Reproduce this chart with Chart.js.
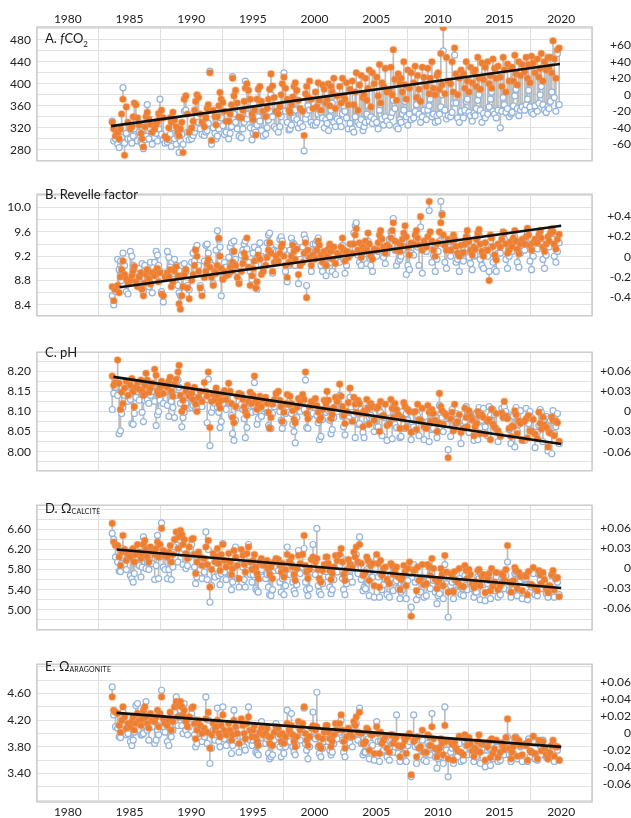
<!DOCTYPE html>
<html>
<head>
<meta charset="utf-8">
<script src="https://cdn.jsdelivr.net/npm/chart.js@4.4.1/dist/chart.umd.min.js"></script>
<style>
  body { margin: 0; background: #fff; font-family: Lato, "Noto Sans", sans-serif; }
  #wrap { position: relative; width: 631px; height: 818px; overflow: hidden; }
  canvas { position: absolute; left: 0; }
  .ttl { position: absolute; left: 45px; font-size: 13px; color: #1a1a1a; white-space: nowrap; }
  .ttl sub { font-size: 8px; }
  .ttl .sc { font-size: 7px; letter-spacing: 0.2px; position: relative; top: 1px; }
</style>
</head>
<body>
<div id="wrap">
  <canvas id="pA" width="631" height="174" style="top:0px"></canvas>
  <canvas id="pB" width="631" height="148" style="top:181px"></canvas>
  <canvas id="pC" width="631" height="145" style="top:339px"></canvas>
  <canvas id="pD" width="631" height="151" style="top:492px"></canvas>
  <canvas id="pE" width="631" height="167" style="top:651px"></canvas>
  <div class="ttl" style="top:30px">A. <i>f</i>CO<sub>2</sub></div>
  <div class="ttl" style="top:186px">B. Revelle factor</div>
  <div class="ttl" style="top:344px">C. pH</div>
  <div class="ttl" style="top:500px">D. &Omega;<span class="sc">CALCITE</span></div>
  <div class="ttl" style="top:658px">E. &Omega;<span class="sc">ARAGONITE</span></div>
</div>
<script>
// sample dates (decimal years), one row per year
const sampleYears = [
  1983.60,1983.72,1983.86,
  1984.04,1984.16,1984.27,1984.36,1984.47,1984.60,1984.74,1984.88,
  1985.07,1985.19,1985.30,1985.39,1985.52,1985.65,1985.79,1985.93,
  1986.02,1986.13,1986.24,1986.34,1986.44,1986.57,1986.70,1986.84,
  1987.04,1987.16,1987.27,1987.36,1987.47,1987.60,1987.74,1987.88,
  1988.07,1988.19,1988.30,1988.39,1988.52,1988.65,1988.79,1988.93,
  1989.02,1989.13,1989.24,1989.34,1989.44,1989.57,1989.70,1989.84,
  1990.04,1990.16,1990.27,1990.36,1990.47,1990.60,1990.74,1990.88,
  1991.07,1991.19,1991.30,1991.39,1991.52,1991.65,1991.79,1991.93,
  1992.02,1992.13,1992.24,1992.34,1992.44,1992.57,1992.70,1992.84,
  1993.04,1993.16,1993.27,1993.36,1993.47,1993.60,1993.74,1993.88,
  1994.07,1994.19,1994.30,1994.39,1994.52,1994.65,1994.79,1994.93,
  1995.02,1995.13,1995.24,1995.34,1995.44,1995.57,1995.70,1995.84,
  1996.04,1996.16,1996.27,1996.36,1996.47,1996.60,1996.74,1996.88,
  1997.07,1997.19,1997.30,1997.39,1997.52,1997.65,1997.79,1997.93,
  1998.02,1998.13,1998.24,1998.34,1998.44,1998.57,1998.70,1998.84,
  1999.04,1999.16,1999.27,1999.36,1999.47,1999.60,1999.74,1999.88,
  2000.07,2000.19,2000.30,2000.39,2000.52,2000.65,2000.79,2000.93,
  2001.02,2001.13,2001.24,2001.34,2001.44,2001.57,2001.70,2001.84,
  2002.04,2002.16,2002.27,2002.36,2002.47,2002.60,2002.74,2002.88,
  2003.07,2003.19,2003.30,2003.39,2003.52,2003.65,2003.79,2003.93,
  2004.02,2004.13,2004.24,2004.34,2004.44,2004.57,2004.70,2004.84,
  2005.04,2005.16,2005.27,2005.36,2005.47,2005.60,2005.74,2005.88,
  2006.07,2006.19,2006.30,2006.39,2006.52,2006.65,2006.79,2006.93,
  2007.02,2007.13,2007.24,2007.34,2007.44,2007.57,2007.70,2007.84,
  2008.04,2008.16,2008.27,2008.36,2008.47,2008.60,2008.74,2008.88,
  2009.07,2009.19,2009.30,2009.39,2009.52,2009.65,2009.79,2009.93,
  2010.02,2010.13,2010.24,2010.34,2010.44,2010.57,2010.70,2010.84,
  2011.04,2011.16,2011.27,2011.36,2011.47,2011.60,2011.74,2011.88,
  2012.07,2012.19,2012.30,2012.39,2012.52,2012.65,2012.79,2012.93,
  2013.02,2013.13,2013.24,2013.34,2013.44,2013.57,2013.70,2013.84,
  2014.04,2014.16,2014.27,2014.36,2014.47,2014.60,2014.74,2014.88,
  2015.07,2015.19,2015.30,2015.39,2015.52,2015.65,2015.79,2015.93,
  2016.02,2016.13,2016.24,2016.34,2016.44,2016.57,2016.70,2016.84,
  2017.04,2017.16,2017.27,2017.36,2017.47,2017.60,2017.74,2017.88,
  2018.07,2018.19,2018.30,2018.39,2018.52,2018.65,2018.79,2018.93,
  2019.02,2019.13,2019.24,2019.34,2019.44,2019.57,2019.70,2019.84
];

// A. fCO2 (uatm): orange filled / blue open
const fco2Orange = [
  330,318,305,
  312,300,318,345,372,270,358,330,
  318,322,340,365,362,338,325,310,
  300,285,322,340,348,336,326,312,
  318,326,332,346,340,352,338,304,
  300,320,338,330,348,334,322,312,
  305,318,330,275,372,378,345,312,
  320,332,352,368,380,375,345,330,
  322,338,355,362,420,297,352,340,
  325,340,360,384,372,366,350,332,
  332,345,362,410,378,388,365,340,
  338,352,368,392,400,388,372,345,
  335,352,307,372,390,395,368,350,
  340,355,372,390,418,396,375,350,
  345,358,380,400,412,392,372,352,
  348,362,376,395,402,388,370,355,
  350,306,382,395,375,405,372,355,
  385,358,402,370,352,398,390,365,
  372,400,360,395,385,410,355,378,
  395,365,410,378,372,402,362,390,
  405,362,385,420,352,398,415,375,
  380,410,370,392,425,358,420,400,
  412,378,435,365,402,395,428,385,
  390,430,380,462,408,370,418,400,
  410,385,440,398,372,425,392,420,
  402,432,375,415,390,368,430,412,
  395,428,382,410,440,392,380,415,
  420,390,455,398,502,382,448,405,
  400,440,385,465,418,380,410,425,
  418,392,440,405,385,430,402,422,
  425,395,448,410,390,438,408,430,
  440,400,415,392,445,428,410,432,
  412,395,448,425,385,436,405,430,
  430,405,452,418,398,440,415,435,
  422,448,410,435,402,450,438,420,
  445,412,428,455,405,440,425,448,
  430,448,420,478,445,410,462,465
];
const fco2Blue = [
  332,296,300,
  290,284,298,302,393,292,310,300,
  300,292,305,318,330,296,312,295,
  290,282,298,305,362,300,318,290,
  302,310,296,318,372,308,298,292,
  294,298,308,286,320,300,290,304,
  275,296,308,290,350,352,312,298,
  300,306,312,320,338,330,318,308,
  306,312,315,328,423,290,320,310,
  300,305,318,330,338,324,308,312,
  300,310,322,413,345,330,318,305,
  302,318,330,405,336,345,320,298,
  310,318,312,325,340,332,315,305,
  308,320,334,350,380,340,322,318,
  312,322,340,352,420,350,330,316,
  318,325,345,338,352,335,320,328,
  322,278,336,345,360,352,330,325,
  325,330,345,368,348,338,320,335,
  328,315,340,352,365,330,322,336,
  332,322,345,360,350,338,318,328,
  318,312,340,352,330,326,335,315,
  322,330,345,360,332,340,328,336,
  330,318,352,362,336,325,340,332,
  325,340,348,370,355,322,318,335,
  330,345,352,368,340,325,345,335,
  338,350,362,375,345,330,340,352,
  335,352,360,372,340,345,330,342,
  332,345,358,380,460,352,336,342,
  340,348,365,452,365,338,330,350,
  338,352,368,372,348,342,332,346,
  342,355,370,380,352,330,346,338,
  345,358,372,385,350,345,338,352,
  320,350,375,362,348,355,340,345,
  348,360,378,390,355,342,352,358,
  352,362,372,388,358,348,345,360,
  350,365,380,395,362,352,348,358,
  355,368,385,442,375,350,455,362
];

// B. Revelle factor
const revelleOrange = [
  8.70,8.47,8.65,
  8.72,8.60,8.86,8.98,9.12,8.90,8.83,8.76,
  8.80,8.88,8.96,9.03,8.78,8.70,8.86,8.93,
  8.66,8.55,8.76,8.90,8.98,8.83,8.74,8.93,
  8.88,8.96,9.00,8.78,8.93,8.58,8.55,8.86,
  8.93,8.86,8.98,8.70,8.78,8.96,9.03,8.88,
  8.42,8.33,8.55,8.70,8.90,8.98,8.68,8.50,
  8.80,8.90,9.05,9.30,9.20,8.95,8.68,8.55,
  8.85,8.95,9.08,9.15,9.02,8.85,8.72,8.95,
  8.92,9.05,9.50,9.20,9.00,8.82,8.95,8.88,
  8.90,9.02,8.95,9.10,9.28,9.05,8.85,8.75,
  8.95,9.08,9.25,9.18,9.50,9.02,8.72,8.88,
  9.00,9.12,8.68,8.78,9.22,9.15,8.90,8.95,
  9.05,9.18,9.30,9.42,9.25,8.95,9.10,9.20,
  9.12,9.25,9.35,9.40,9.20,9.05,8.85,9.10,
  9.08,9.20,9.38,9.28,9.15,9.32,8.90,9.05,
  9.10,9.25,9.42,8.52,9.30,9.18,9.05,9.22,
  9.15,9.30,9.45,9.38,9.22,9.10,9.28,9.05,
  9.20,9.32,9.40,9.28,9.15,9.35,9.08,9.25,
  9.22,9.35,9.50,9.30,9.12,9.28,9.18,9.40,
  9.25,9.40,9.55,9.65,9.30,9.42,9.18,9.35,
  9.28,9.45,9.30,9.58,9.40,9.20,9.15,9.32,
  9.30,9.42,9.55,9.62,9.48,9.35,9.25,9.38,
  9.35,9.50,9.62,9.75,9.45,9.30,9.42,9.28,
  9.38,9.48,9.58,9.70,9.52,9.35,9.22,9.42,
  9.40,9.55,9.62,9.50,9.38,9.85,9.30,9.45,
  9.35,9.52,10.10,9.60,9.45,9.30,9.20,9.40,
  9.42,9.60,9.75,9.88,9.55,9.38,9.30,9.48,
  9.30,9.45,9.55,9.48,9.36,9.25,9.20,9.38,
  9.26,9.40,9.52,9.62,9.44,9.30,9.22,9.35,
  9.32,9.48,9.58,9.64,9.40,9.28,9.20,9.42,
  9.30,8.80,9.55,9.50,9.36,9.22,9.14,9.40,
  9.35,9.48,9.60,9.58,9.40,9.25,9.30,9.44,
  9.36,9.50,9.62,9.45,9.32,9.24,9.40,9.48,
  9.40,9.52,9.66,9.55,9.38,9.30,9.42,9.48,
  9.42,9.55,9.62,9.50,9.35,9.28,9.40,9.52,
  9.45,9.58,9.65,9.60,9.40,9.32,9.48,9.56
];
const revelleBlue = [
  8.55,8.40,8.62,
  9.15,8.98,9.12,8.80,9.25,9.05,8.62,8.58,
  9.28,9.20,9.05,8.85,8.95,8.75,9.00,8.68,
  9.08,8.62,9.05,8.92,8.78,8.70,9.10,8.60,
  9.10,9.28,9.22,9.05,8.95,8.62,8.45,8.92,
  9.28,9.18,9.02,8.95,8.82,9.15,9.05,8.72,
  8.60,8.55,9.05,8.90,9.08,8.95,8.72,8.65,
  9.10,9.25,9.12,9.32,9.38,9.05,8.72,8.62,
  9.12,9.38,9.40,9.25,9.10,9.05,8.75,8.92,
  9.30,9.62,9.48,9.35,8.55,8.85,9.10,9.02,
  9.18,9.35,9.42,9.28,9.45,9.15,8.95,8.80,
  9.22,9.30,9.40,9.45,9.32,9.10,8.95,8.82,
  9.25,9.35,9.05,8.66,9.30,9.42,9.20,9.00,
  9.18,9.42,9.55,9.58,9.35,8.92,9.30,9.28,
  9.28,9.48,9.52,9.45,9.30,8.95,8.78,9.05,
  9.30,9.50,9.42,9.40,9.05,9.35,8.75,9.15,
  9.35,9.55,9.48,8.72,9.20,9.28,8.95,9.40,
  9.40,9.45,9.50,9.25,9.05,8.95,9.15,8.88,
  9.05,9.18,9.35,9.10,8.95,9.22,8.90,9.12,
  9.10,9.20,9.38,9.15,8.92,9.05,9.25,9.22,
  9.40,9.58,9.70,9.75,9.22,9.10,9.05,9.15,
  9.15,9.30,9.08,9.45,9.25,9.05,8.95,9.20,
  9.20,9.28,9.42,9.50,9.30,9.18,9.08,9.25,
  9.48,9.60,9.55,9.82,9.30,9.05,9.12,9.15,
  9.20,9.30,9.45,9.52,8.90,9.05,8.98,9.25,
  9.22,9.40,9.48,9.35,9.05,9.68,8.92,9.30,
  9.28,9.45,9.95,9.40,9.10,9.22,8.95,9.15,
  9.28,9.45,10.10,9.90,9.40,9.10,9.00,9.35,
  9.20,9.30,9.45,9.32,9.10,9.15,8.95,9.25,
  9.12,9.25,9.40,9.52,9.18,9.08,8.98,9.20,
  9.22,9.38,9.52,9.55,9.15,9.05,9.00,9.30,
  9.20,8.95,9.45,9.35,9.10,8.98,8.95,9.25,
  9.25,9.40,9.48,9.48,9.15,9.00,9.20,9.30,
  9.28,9.45,9.52,9.35,9.10,9.02,9.25,9.38,
  9.30,9.42,9.58,9.40,9.12,8.98,9.20,9.35,
  9.32,9.48,9.60,9.40,9.15,9.00,9.22,9.40,
  9.35,9.50,9.62,9.48,9.20,9.10,9.28,9.42
];

// C. pH
const phOrange = [
  8.188,8.165,8.172,
  8.228,8.170,8.105,8.148,8.120,8.158,8.175,8.140,
  8.165,8.182,8.150,8.112,8.160,8.172,8.155,8.178,
  8.150,8.140,8.165,8.195,8.178,8.148,8.158,8.170,
  8.205,8.190,8.150,8.142,8.160,8.175,8.145,8.165,
  8.160,8.175,8.185,8.150,8.138,8.168,8.180,8.198,
  8.215,8.140,8.100,8.128,8.110,8.150,8.165,8.138,
  8.145,8.130,8.160,8.118,8.100,8.135,8.150,8.125,
  8.172,8.150,8.138,8.198,8.060,8.125,8.142,8.128,
  8.158,8.140,8.118,8.108,8.128,8.145,8.152,8.130,
  8.170,8.150,8.120,8.085,8.072,8.112,8.138,8.145,
  8.142,8.130,8.112,8.100,8.090,8.125,8.148,8.120,
  8.140,8.188,8.125,8.105,8.118,8.138,8.112,8.130,
  8.135,8.120,8.098,8.058,8.085,8.118,8.130,8.145,
  8.150,8.128,8.112,8.075,8.098,8.120,8.142,8.118,
  8.138,8.120,8.102,8.080,8.072,8.110,8.132,8.125,
  8.142,8.130,8.198,8.095,8.082,8.112,8.125,8.118,
  8.132,8.115,8.098,8.078,8.085,8.105,8.128,8.120,
  8.150,8.128,8.105,8.082,8.092,8.110,8.135,8.125,
  8.168,8.138,8.112,8.090,8.070,8.100,8.122,8.158,
  8.075,8.135,8.118,8.098,8.128,8.120,8.095,8.062,
  8.102,8.095,8.130,8.108,8.068,8.120,8.112,8.078,
  8.108,8.112,8.050,8.125,8.088,8.090,8.118,8.065,
  8.070,8.130,8.108,8.085,8.120,8.105,8.092,8.058,
  8.085,8.082,8.122,8.112,8.060,8.105,8.100,8.048,
  8.098,8.100,8.055,8.118,8.080,8.078,8.108,8.062,
  8.058,8.115,8.098,8.075,8.105,8.095,8.078,8.050,
  8.072,8.145,8.112,8.102,8.068,8.095,8.090,7.985,
  8.082,8.098,8.052,8.118,8.070,8.075,8.092,8.048,
  8.058,8.108,8.085,8.062,8.102,8.088,8.078,8.040,
  8.062,8.070,8.100,8.090,8.045,8.092,8.085,8.044,
  8.076,8.080,8.030,8.106,8.068,8.060,8.095,8.052,
  8.040,8.096,8.086,8.125,8.088,8.082,8.058,8.038,
  8.064,8.062,8.102,8.092,8.045,8.076,8.070,8.028,
  8.076,8.082,8.034,8.090,8.052,8.050,8.080,8.044,
  8.032,8.098,8.070,8.056,8.086,8.066,8.060,8.012,
  8.048,8.046,8.086,8.078,8.040,8.076,8.072,8.026
];
const phBlue = [
  8.105,8.145,8.160,
  8.140,8.045,8.052,8.095,8.110,8.140,8.150,8.125,
  8.130,8.070,8.068,8.095,8.135,8.150,8.128,8.160,
  8.098,8.075,8.128,8.165,8.130,8.120,8.140,8.150,
  8.125,8.065,8.092,8.100,8.128,8.145,8.120,8.150,
  8.115,8.088,8.150,8.125,8.110,8.085,8.140,8.178,
  8.160,8.120,8.062,8.085,8.098,8.120,8.135,8.108,
  8.110,8.115,8.135,8.105,8.108,8.120,8.130,8.112,
  8.140,8.130,8.072,8.180,8.015,8.098,8.110,8.120,
  8.130,8.110,8.098,8.060,8.075,8.120,8.135,8.105,
  8.145,8.120,8.090,8.045,8.028,8.078,8.110,8.125,
  8.118,8.105,8.082,8.035,8.060,8.100,8.120,8.098,
  8.115,8.172,8.100,8.068,8.082,8.110,8.088,8.108,
  8.110,8.098,8.065,8.060,8.058,8.095,8.112,8.122,
  8.128,8.100,8.078,8.058,8.072,8.095,8.118,8.098,
  8.118,8.095,8.068,8.050,8.022,8.085,8.110,8.100,
  8.125,8.105,8.178,8.060,8.058,8.088,8.100,8.095,
  8.110,8.090,8.072,8.030,8.038,8.080,8.105,8.098,
  8.128,8.102,8.078,8.045,8.055,8.085,8.112,8.100,
  8.140,8.112,8.088,8.062,8.042,8.075,8.098,8.135,
  8.098,8.092,8.035,8.112,8.068,8.070,8.105,8.048,
  8.035,8.108,8.098,8.068,8.085,8.090,8.080,8.050,
  8.062,8.062,8.102,8.098,8.040,8.090,8.085,8.028,
  8.080,8.085,8.032,8.108,8.068,8.060,8.100,8.035,
  8.038,8.100,8.082,8.058,8.095,8.078,8.060,8.030,
  8.062,8.052,8.098,8.090,8.040,8.078,8.075,8.030,
  8.072,8.075,8.025,8.100,8.055,8.058,8.088,8.035,
  8.050,8.115,8.095,8.085,8.050,8.072,8.068,8.005,
  8.038,8.105,8.078,8.060,8.095,8.082,8.058,8.020,
  8.065,8.075,8.112,8.102,8.048,8.085,8.090,8.028,
  8.095,8.095,8.030,8.110,8.060,8.078,8.108,8.062,
  8.040,8.112,8.090,8.075,8.105,8.092,8.058,8.025,
  8.038,8.108,8.085,8.112,8.100,8.088,8.055,8.020,
  8.090,8.088,8.012,8.110,8.052,8.068,8.102,8.030,
  8.028,8.108,8.085,8.070,8.100,8.085,8.050,8.010,
  8.048,8.065,8.105,8.098,8.025,8.082,8.088,8.002,
  8.082,8.078,7.995,8.102,8.045,8.062,8.095,8.020
];

// D. Omega calcite
const calciteOrange = [
  6.72,6.35,6.28,
  6.28,6.05,5.88,6.15,6.48,6.20,5.98,6.10,
  6.05,6.18,6.22,5.95,6.10,6.30,6.15,6.02,
  6.12,6.30,6.38,6.20,6.05,5.95,6.25,6.15,
  6.10,6.22,6.35,6.05,6.30,6.62,6.18,6.08,
  6.05,6.15,6.28,5.95,6.10,6.40,6.55,6.22,
  6.45,6.58,6.50,6.30,6.40,6.12,6.02,6.25,
  6.40,6.42,6.10,5.72,5.95,6.15,6.05,5.88,
  6.02,6.25,5.90,6.38,5.45,5.80,6.12,5.95,
  6.05,6.22,5.92,5.78,6.10,6.30,5.98,5.85,
  6.12,5.95,5.70,5.82,6.18,6.05,5.88,5.62,
  6.20,6.08,5.90,5.75,6.12,6.25,5.95,5.80,
  5.98,6.10,5.85,5.72,5.62,5.95,6.02,5.88,
  5.90,5.98,5.82,5.70,5.85,5.62,5.95,6.02,
  6.00,5.88,5.75,5.92,5.65,5.80,6.10,5.95,
  5.95,6.05,5.85,5.70,5.58,5.82,6.08,5.92,
  6.10,6.48,5.88,5.75,5.62,5.80,6.00,6.05,
  5.95,6.02,5.80,5.62,5.55,5.78,5.90,6.05,
  6.05,5.92,5.78,5.60,5.72,5.85,6.08,5.98,
  6.10,6.22,5.95,5.70,5.58,5.80,6.00,5.90,
  5.85,6.15,6.05,6.25,5.95,6.30,5.92,5.68,
  5.70,5.75,6.05,5.98,5.58,5.88,5.92,5.48,
  6.10,5.92,5.45,5.98,5.68,5.82,5.85,5.60,
  5.52,5.92,5.88,5.70,5.78,5.85,5.65,5.40,
  5.60,5.65,5.88,5.75,5.48,5.82,5.95,4.87,
  5.78,5.80,5.38,5.85,5.58,5.62,5.90,5.50,
  5.52,5.90,5.85,5.68,6.02,5.82,5.60,5.42,
  5.55,5.60,5.82,5.70,5.48,6.08,5.75,5.35,
  5.72,5.70,5.36,5.76,5.58,5.55,5.82,5.48,
  5.46,5.88,5.78,5.62,5.80,5.70,5.52,5.44,
  5.56,5.52,5.78,5.80,5.48,5.66,5.70,5.34,
  5.62,5.72,5.38,5.82,5.48,5.55,5.74,5.40,
  5.48,5.72,5.68,5.58,5.80,6.28,5.55,5.35,
  5.52,5.58,5.84,5.78,5.42,5.74,5.66,5.38,
  5.68,5.66,5.30,5.76,5.50,5.50,5.84,5.45,
  5.38,5.78,5.70,5.52,5.74,5.60,5.42,5.34,
  5.48,5.46,5.70,5.78,5.40,5.62,5.64,5.26
];
const calciteBlue = [
  6.52,6.40,6.05,
  5.95,5.77,5.76,5.92,6.22,5.90,5.80,6.05,
  5.68,5.62,5.55,5.72,5.92,6.05,5.88,5.65,
  5.85,6.45,6.25,5.82,5.95,5.80,6.10,5.92,
  5.60,5.88,6.48,5.62,6.05,6.73,5.85,5.80,
  5.62,5.80,6.00,5.60,5.85,6.25,6.40,5.95,
  6.15,6.38,6.12,5.90,6.20,5.82,5.88,6.05,
  6.30,6.10,5.85,5.52,5.65,5.95,5.80,5.62,
  5.75,6.55,5.60,6.20,5.15,5.48,5.90,5.65,
  5.82,6.05,5.68,5.50,5.72,6.32,5.75,5.60,
  5.92,5.70,5.40,5.55,5.85,6.25,5.62,5.45,
  6.00,5.85,5.60,5.45,5.78,6.30,5.70,5.55,
  5.70,5.85,5.42,5.38,5.35,5.62,5.80,5.65,
  5.62,5.70,5.45,5.30,5.28,5.40,5.78,5.85,
  5.78,5.55,5.35,5.62,5.30,5.48,6.25,5.70,
  5.70,5.90,5.55,5.38,5.32,5.50,6.18,5.72,
  5.85,6.22,5.55,5.40,5.28,5.42,5.75,6.30,
  5.70,6.62,5.48,5.35,5.30,5.52,5.65,5.82,
  5.82,5.65,5.45,5.32,5.40,5.60,5.85,5.75,
  5.88,6.05,5.62,5.40,5.30,5.52,5.78,5.65,
  5.55,6.00,5.82,6.10,5.72,6.45,5.60,5.38,
  5.45,5.42,5.80,5.75,5.28,5.62,5.65,5.25,
  6.02,5.65,5.25,5.72,5.40,5.50,5.60,5.30,
  5.25,5.70,5.62,5.38,5.55,5.58,5.42,5.22,
  5.35,5.40,5.65,5.50,5.22,5.58,5.72,5.05,
  5.90,5.55,5.20,5.62,5.30,5.35,5.65,5.25,
  5.28,5.65,5.60,5.42,5.72,5.58,5.35,5.12,
  5.28,5.32,5.58,5.48,5.22,5.90,5.52,4.85,
  5.48,5.55,5.22,5.60,5.38,5.35,5.62,5.30,
  5.28,5.68,5.60,5.40,5.70,5.55,5.42,5.25,
  5.35,5.35,5.65,5.62,5.20,5.55,5.50,5.18,
  5.52,5.58,5.22,5.70,5.40,5.38,5.65,5.25,
  5.30,5.62,5.58,5.42,5.68,5.95,5.38,5.25,
  5.38,5.40,5.72,5.75,5.28,5.62,5.58,5.22,
  5.60,5.62,5.20,5.75,5.35,5.45,5.72,5.30,
  5.28,5.70,5.58,5.42,5.70,5.55,5.32,5.25,
  5.35,5.40,5.68,5.70,5.25,5.60,5.55,5.30
];

// E. Omega aragonite
const aragoniteOrange = [
  4.55,4.35,4.32,
  4.30,4.12,4.02,4.20,4.40,4.25,4.08,4.15,
  4.10,4.18,4.25,4.05,4.15,4.30,4.20,4.12,
  4.22,4.35,4.40,4.25,4.15,4.08,4.30,4.20,
  4.18,4.25,4.35,4.10,4.30,4.55,4.22,4.15,
  4.12,4.20,4.32,4.05,4.18,4.40,4.48,4.25,
  4.42,4.48,4.40,4.28,4.35,4.18,4.10,4.25,
  4.38,4.40,4.15,3.92,4.05,4.20,4.12,4.00,
  4.08,4.22,4.02,4.32,3.78,3.98,4.15,4.05,
  4.10,4.20,4.00,3.95,4.12,4.28,4.05,3.98,
  4.15,4.05,3.90,3.98,4.20,4.10,4.00,3.85,
  4.22,4.12,4.00,3.92,4.15,4.25,4.05,3.95,
  4.05,4.12,3.95,3.88,3.82,4.02,4.08,3.98,
  4.00,4.08,3.95,3.85,3.95,3.82,4.02,4.10,
  4.08,3.98,3.88,4.00,3.85,3.95,4.15,4.05,
  4.02,4.12,3.98,3.88,3.80,3.95,4.18,4.05,
  4.15,4.40,4.00,3.90,3.82,3.95,4.08,4.12,
  4.05,4.10,3.95,3.82,3.78,3.92,4.02,4.12,
  4.12,4.02,3.92,3.80,3.88,3.98,4.15,4.05,
  4.15,4.28,4.05,3.88,3.78,3.95,4.08,4.00,
  3.95,4.18,4.12,4.25,4.02,4.32,4.00,3.85,
  3.85,3.88,4.08,4.05,3.75,3.98,3.98,3.70,
  4.10,4.00,3.70,4.02,3.85,3.90,3.95,3.78,
  3.72,3.98,3.98,3.85,3.92,3.95,3.82,3.65,
  3.80,3.82,3.95,3.90,3.70,3.95,4.00,3.38,
  3.88,3.92,3.65,3.95,3.78,3.80,4.05,3.72,
  3.72,3.98,3.95,3.82,4.10,3.92,3.78,3.65,
  3.75,3.78,3.92,3.85,3.68,4.12,3.88,3.62,
  3.88,3.84,3.60,3.86,3.78,3.74,3.96,3.72,
  3.68,3.98,3.92,3.82,3.94,3.84,3.74,3.66,
  3.78,3.74,3.88,3.98,3.72,3.84,3.86,3.60,
  3.80,3.88,3.64,3.92,3.70,3.77,3.90,3.64,
  3.72,3.86,3.82,3.76,3.94,4.22,3.78,3.62,
  3.72,3.80,3.94,3.92,3.66,3.90,3.82,3.68,
  3.84,3.82,3.60,3.88,3.74,3.72,3.96,3.70,
  3.62,3.90,3.88,3.74,3.88,3.78,3.68,3.62,
  3.72,3.70,3.82,3.90,3.66,3.80,3.80,3.60
];
const aragoniteBlue = [
  4.70,4.28,4.10,
  4.08,3.95,3.94,4.05,4.32,4.12,3.98,4.00,
  3.88,3.82,3.90,4.02,4.42,4.45,4.22,3.98,
  3.98,4.00,4.25,4.48,4.05,3.90,4.15,4.10,
  3.85,3.90,4.05,3.98,4.20,4.65,4.10,4.02,
  3.88,3.82,4.10,3.95,4.05,4.32,4.55,4.12,
  4.25,4.35,4.12,4.00,4.45,4.05,3.98,4.10,
  4.30,4.22,3.98,3.80,3.85,4.10,4.00,3.88,
  3.95,4.55,3.85,4.20,3.55,3.78,4.05,3.90,
  3.98,4.38,3.88,3.80,3.95,4.40,3.92,3.82,
  4.02,3.90,3.70,3.82,4.35,4.00,3.88,3.72,
  4.05,3.95,3.80,3.75,3.98,4.40,3.90,3.82,
  3.90,4.00,3.72,3.70,3.68,3.85,4.18,3.85,
  3.85,3.92,3.70,3.62,3.65,3.68,3.90,4.15,
  3.95,3.80,3.65,3.85,3.70,3.80,4.35,3.92,
  3.88,4.30,3.80,3.72,3.68,3.82,4.10,3.90,
  4.02,4.38,3.85,3.75,3.62,3.80,3.95,4.32,
  3.92,4.62,3.80,3.70,3.65,3.78,3.88,4.00,
  4.00,3.88,3.75,3.68,3.72,3.85,4.05,3.92,
  4.02,4.20,3.90,3.72,3.65,3.82,3.95,3.85,
  3.80,4.10,4.00,4.15,3.90,4.38,3.85,3.68,
  3.72,3.72,3.95,3.92,3.62,3.85,3.82,3.60,
  4.18,3.88,3.58,3.88,3.72,3.75,3.82,3.65,
  3.60,3.88,3.85,3.72,3.80,4.28,3.70,3.58,
  3.65,3.68,3.82,3.78,3.58,3.82,3.88,3.35,
  4.28,3.80,3.55,3.82,3.65,3.65,3.90,3.60,
  3.58,3.85,3.82,3.68,4.30,3.78,3.65,3.48,
  3.62,3.65,3.80,3.72,3.55,4.40,3.75,3.35,
  3.72,3.78,3.55,3.82,3.65,3.65,3.85,3.58,
  3.60,3.88,3.82,3.68,3.90,3.78,3.68,3.58,
  3.65,3.65,3.85,3.88,3.55,3.80,3.75,3.50,
  3.75,3.78,3.52,3.85,3.62,3.65,3.88,3.58,
  3.60,3.82,3.80,3.68,3.88,3.95,3.68,3.58,
  3.68,3.70,3.90,3.95,3.62,3.85,3.80,3.58,
  3.82,3.85,3.58,3.92,3.65,3.72,3.95,3.62,
  3.60,3.85,3.82,3.68,3.90,3.78,3.65,3.62,
  3.65,3.65,3.82,3.85,3.58,3.80,3.75,3.60
];

// trend lines: [start, end]
const fco2TrendX = [1983.5, 2019.9], fco2TrendY = [323, 436];
const revelleTrendX = [1984.2, 2020], revelleTrendY = [8.69, 9.70];
const phTrendX = [1983.7, 2020], phTrendY = [8.186, 8.019];
const calciteTrendX = [1983.95, 2020], calciteTrendY = [6.20, 5.433];
const aragoniteTrendX = [1983.95, 2020], aragoniteTrendY = [4.31, 3.80];

// tick labels
const yearTicks = [1980, 1985, 1990, 1995, 2000, 2005, 2010, 2015, 2020];
const fco2Ticks = [280, 320, 360, 400, 440, 480];
const fco2AnomTicks = [-60, -40, -20, 0, 20, 40, 60];
const revelleTicks = [8.4, 8.8, 9.2, 9.6, 10.0];
const revelleAnomTicks = [-0.4, -0.2, 0, 0.2, 0.4];
const phTicks = [8.00, 8.05, 8.10, 8.15, 8.20];
const phAnomTicks = [-0.06, -0.03, 0, 0.03, 0.06];
const calciteTicks = [5.00, 5.40, 5.80, 6.20, 6.60];
const calciteAnomTicks = [-0.06, -0.03, 0, 0.03, 0.06];
const aragoniteTicks = [3.40, 3.80, 4.20, 4.60];
const aragoniteAnomTicks = [-0.06, -0.04, -0.02, 0, 0.02, 0.04, 0.06];

const FONT = { family: 'Lato, "Noto Sans", sans-serif', size: 12 };
const TXT = '#222';

const framePlugin = {
  id: 'frame',
  beforeDatasetsDraw(chart) {
    const a = chart.chartArea, c = chart.ctx;
    c.save();
    c.strokeStyle = '#cccccc';
    c.lineWidth = 1.5;
    c.strokeRect(a.left, a.top, a.right - a.left, a.bottom - a.top);
    c.restore();
  }
};

function gridFrom(labels, min, max) {
  const half = (labels[1] - labels[0]) / 2;
  const out = [];
  let v = labels[0];
  while (v - half > min + 1e-9) v -= half;
  for (; v < max - 1e-9; v += half) out.push(Math.round(v * 1e4) / 1e4);
  return out;
}

function signed(v, dec) {
  if (Math.abs(v) < 1e-9) return '0';
  const s = v.toFixed(dec);
  return v > 0 ? '+' + s : s;
}

function makePanel(p) {
  const pts = arr => sampleYears.map((t, i) => ({ x: t, y: arr[i] }));
  const links = sampleYears.map((t, i) => ({ x: t, y: [p.blue[i], p.orange[i]] }));
  const grid = gridFrom(p.ticks, p.yMin, p.yMax);

  new Chart(document.getElementById(p.id), {
    type: 'scatter',
    data: {
      datasets: [
        { type: 'bar', data: links, backgroundColor: '#bdbdbd', barThickness: 1, order: 4, yAxisID: 'y' },
        { data: pts(p.blue), pointRadius: 3, pointBackgroundColor: '#ffffff', pointBorderColor: '#93b4dc',
          pointBorderWidth: 1.2, order: 3, yAxisID: 'y' },
        { data: pts(p.orange), pointRadius: 3.3, pointBackgroundColor: '#ed7d31',
          pointBorderColor: 'rgba(244,150,80,0.35)', pointBorderWidth: 1.6, order: 2, yAxisID: 'y' },
        { type: 'line', data: p.tx.map((x, i) => ({ x: x, y: p.ty[i] })), borderColor: '#111',
          borderWidth: 2.6, pointRadius: 0, order: 1, yAxisID: 'y' }
      ]
    },
    options: {
      responsive: false,
      animation: false,
      events: [],
      layout: { padding: { top: p.padTop, bottom: p.padBottom, left: 0, right: 0 } },
      plugins: { legend: { display: false }, tooltip: { enabled: false } },
      scales: {
        x: {
          type: 'linear', min: 1980, max: 2020, position: p.xPos,
          afterBuildTicks: s => { s.ticks = yearTicks.map(v => ({ value: v })); },
          afterFit: s => { s.height = p.xH; },
          ticks: { display: p.xLabels, autoSkip: false, maxRotation: 0, padding: p.xPad, font: FONT, color: TXT,
                   callback: v => String(v) },
          grid: { color: '#dddddd', drawTicks: false },
          border: { display: false }
        },
        y: {
          position: 'left', min: p.yMin, max: p.yMax,
          afterBuildTicks: s => { s.ticks = grid.map(v => ({ value: v })); },
          afterFit: s => { s.width = 37; },
          ticks: { autoSkip: false, padding: 6, font: FONT, color: TXT,
                   callback: v => p.ticks.some(t => Math.abs(t - v) < 1e-6) ? v.toFixed(p.dec) : '' },
          grid: { color: '#e2e2e2', drawTicks: false },
          border: { display: false }
        },
        y2: {
          position: 'right', min: p.rMin, max: p.rMax,
          afterBuildTicks: s => { s.ticks = p.anom.map(v => ({ value: v })); },
          afterFit: s => { s.width = 39; },
          ticks: { autoSkip: false, padding: 5, crossAlign: 'far', font: FONT, color: TXT,
                   callback: v => signed(v, p.rdec) },
          grid: { display: false, drawTicks: false },
          border: { display: false }
        }
      }
    },
    plugins: [framePlugin]
  });
}

const panels = [
  { id: 'pA', orange: fco2Orange, blue: fco2Blue, tx: fco2TrendX, ty: fco2TrendY,
    ticks: fco2Ticks, anom: fco2AnomTicks, dec: 0, rdec: 0,
    yMin: 260, yMax: 503.3, rMin: -80, rMax: 82.2,
    xPos: 'top', xH: 27, xPad: 1, xLabels: true, padTop: 0, padBottom: 1 },
  { id: 'pB', orange: revelleOrange, blue: revelleBlue, tx: revelleTrendX, ty: revelleTrendY,
    ticks: revelleTicks, anom: revelleAnomTicks, dec: 1, rdec: 1,
    yMin: 8.222, yMax: 10.219, rMin: -0.579, rMax: 0.612,
    xPos: 'bottom', xH: 0, xPad: 0, xLabels: false, padTop: 1, padBottom: 1 },
  { id: 'pC', orange: phOrange, blue: phBlue, tx: phTrendX, ty: phTrendY,
    ticks: phTicks, anom: phAnomTicks, dec: 2, rdec: 2,
    yMin: 7.9526, yMax: 8.2474, rMin: -0.0884, rMax: 0.0884,
    xPos: 'bottom', xH: 0, xPad: 0, xLabels: false, padTop: 1, padBottom: 1 },
  { id: 'pD', orange: calciteOrange, blue: calciteBlue, tx: calciteTrendX, ty: calciteTrendY,
    ticks: calciteTicks, anom: calciteAnomTicks, dec: 2, rdec: 2,
    yMin: 4.60, yMax: 7.083, rMin: -0.0925, rMax: 0.0938,
    xPos: 'bottom', xH: 0, xPad: 0, xLabels: false, padTop: 1, padBottom: 1 },
  { id: 'pE', orange: aragoniteOrange, blue: aragoniteBlue, tx: aragoniteTrendX, ty: aragoniteTrendY,
    ticks: aragoniteTicks, anom: aragoniteAnomTicks, dec: 2, rdec: 2,
    yMin: 2.972, yMax: 5.041, rMin: -0.0818, rMax: 0.0817,
    xPos: 'bottom', xH: 16, xPad: 3, xLabels: true, padTop: 1, padBottom: 0 }
];

panels.forEach(makePanel);
</script>
</body>
</html>
